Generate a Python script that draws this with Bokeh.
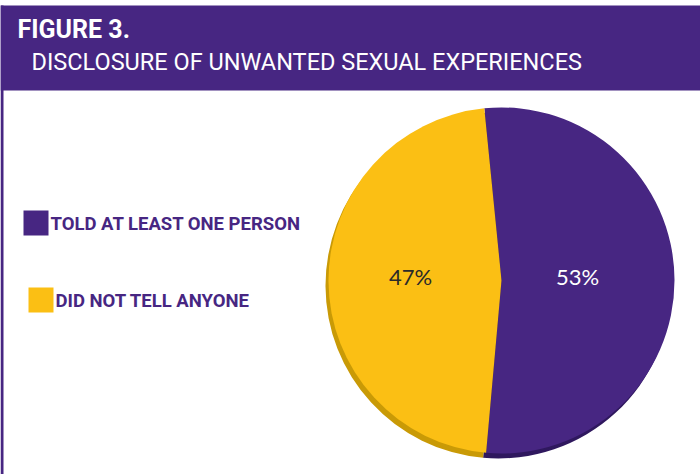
import math
from bokeh.plotting import figure
from bokeh.models import Range1d, Label
from bokeh.embed import file_html
from bokeh.resources import INLINE

categories = ["TOLD AT LEAST ONE PERSON", "DID NOT TELL ANYONE"]
values = [53, 47]
pct_labels = ["53%", "47%"]
colors = ["#472682", "#FBBF14"]
shadow_colors = ["#2F185E", "#C99A06"]
label_colors = ["#FFFFFF", "#2A2A2A"]
title_line1 = "FIGURE 3."
title_line2 = "DISCLOSURE OF UNWANTED SEXUAL EXPERIENCES"

W, H = 700, 474
FONT = "Roboto"

p = figure(width=W, height=H, output_backend="svg", toolbar_location=None,
           x_range=Range1d(0, W), y_range=Range1d(0, H), min_border=0)
p.axis.visible = False
p.grid.visible = False
p.outline_line_color = None
p.background_fill_color = "white"
p.border_fill_color = "white"

def Y(y):
    return H - y

# header band and left border
p.quad(left=0, right=W, bottom=Y(90), top=Y(5), fill_color="#472682", line_color=None)
p.quad(left=0, right=3, bottom=0, top=Y(5), fill_color="#472682", line_color=None)

p.add_layout(Label(x=17, y=Y(43), text=title_line1, text_color="white",
                   text_font=FONT, text_font_size="25px", text_font_style="bold"))
p.add_layout(Label(x=31, y=Y(75), text=title_line2, text_color="white",
                   text_font=FONT, text_font_size="23.5px"))

# pie
cx, cy, r = 501, Y(280), 173
start_offset = -5.7  # degrees clockwise from 12 o'clock where the first slice begins
total = float(sum(values))
starts, ends = [], []
acc = start_offset
for v in values:
    a0 = acc
    a1 = acc + v / total * 360.0
    starts.append(math.radians(90 - a1))
    ends.append(math.radians(90 - a0))
    acc = a1

# shadow
p.wedge(x=[cx - 3] * 2, y=[cy - 5] * 2, radius=r, start_angle=starts, end_angle=ends,
        fill_color=shadow_colors, line_color=None)
p.wedge(x=[cx] * 2, y=[cy] * 2, radius=r, start_angle=starts, end_angle=ends,
        fill_color=colors, line_color=None)

# percentage labels
lx = [577, 410]
for i in range(len(values)):
    p.add_layout(Label(x=lx[i], y=Y(276), text=pct_labels[i], text_color=label_colors[i],
                       text_font="Lato", text_font_size="22px",
                       text_align="center", text_baseline="middle"))

# legend
sq_x = [23, 28]
sq_y = [210, 287]
for i in range(len(categories)):
    p.quad(left=sq_x[i], right=sq_x[i] + 25, top=Y(sq_y[i]), bottom=Y(sq_y[i] + 25),
           fill_color=colors[i], line_color=None)
    p.add_layout(Label(x=sq_x[i] + 27, y=Y(sq_y[i] + 24), text=categories[i],
                       text_color="#472682", text_font=FONT, text_font_size="18.5px",
                       text_font_style="bold"))

open("out.html", "w").write(file_html(p, INLINE))
